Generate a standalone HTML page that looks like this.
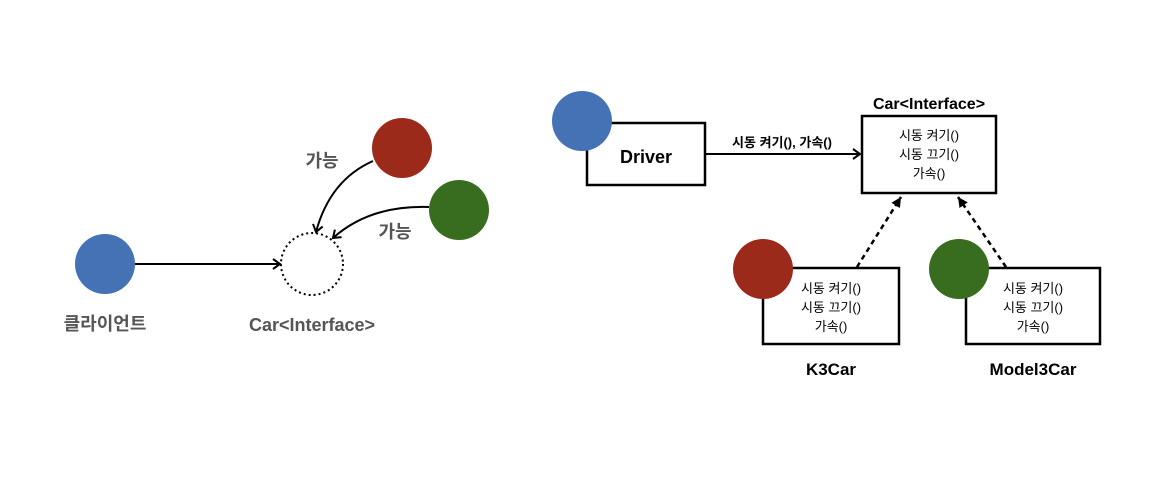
<!DOCTYPE html>
<html><head><meta charset="utf-8"><style>
body{margin:0;background:#fff;}
svg text{font-family:"Liberation Sans","Noto Sans CJK KR",sans-serif;}
</style></head><body>
<svg width="1156" height="493" viewBox="0 0 1156 493" xmlns="http://www.w3.org/2000/svg">
<defs>
<marker id="o" markerWidth="12" markerHeight="12" refX="9" refY="6" orient="auto" markerUnits="userSpaceOnUse"><path d="M2,1 L9,6 L2,11" fill="none" stroke="#000" stroke-width="2"/></marker>
<marker id="f" markerWidth="12" markerHeight="12" refX="10" refY="6" orient="auto" markerUnits="userSpaceOnUse"><path d="M0,1 L10,6 L0,11 Z" fill="#000"/></marker>
</defs>
<!-- left -->
<circle cx="105" cy="264" r="30" fill="#4472b4"/>
<circle cx="312" cy="264" r="31" fill="none" stroke="#000" stroke-width="2" stroke-dasharray="2,3"/>
<circle cx="402" cy="148" r="30" fill="#9b2a1a"/>
<circle cx="459" cy="210" r="30" fill="#386d1f"/>
<line x1="135" y1="264" x2="280" y2="264" stroke="#000" stroke-width="2" marker-end="url(#o)"/>
<path d="M373,161 Q330,180 316,232" fill="none" stroke="#000" stroke-width="2" marker-end="url(#o)"/>
<path d="M429,207 Q370,205 333,238" fill="none" stroke="#000" stroke-width="2" marker-end="url(#o)"/>
<text x="322" y="167" font-size="18" font-weight="bold" fill="#555" text-anchor="middle">가능</text>
<text x="395" y="238" font-size="18" font-weight="bold" fill="#555" text-anchor="middle">가능</text>
<text x="105" y="330" font-size="18" font-weight="bold" fill="#555" text-anchor="middle">클라이언트</text>
<text x="312" y="331" font-size="18" font-weight="bold" fill="#555" text-anchor="middle">Car&lt;Interface&gt;</text>
<!-- right -->
<rect x="587" y="123" width="118" height="62" fill="#fff" stroke="#000" stroke-width="2.5"/>
<circle cx="582" cy="121" r="30" fill="#4472b4"/>
<text x="646" y="163" font-size="18" font-weight="bold" text-anchor="middle">Driver</text>
<line x1="705" y1="154" x2="860" y2="154" stroke="#000" stroke-width="2" marker-end="url(#o)"/>
<text x="782" y="147" font-size="13" font-weight="bold" text-anchor="middle">시동 켜기(), 가속()</text>
<text x="929" y="109" font-size="16" font-weight="bold" text-anchor="middle">Car&lt;Interface&gt;</text>
<rect x="862" y="116" width="134" height="77" fill="#fff" stroke="#000" stroke-width="2.5"/>
<g font-size="13" text-anchor="middle">
<text x="929" y="140">시동 켜기()</text><text x="929" y="159">시동 끄기()</text><text x="929" y="178">가속()</text>
</g>
<rect x="763" y="268" width="136" height="76" fill="#fff" stroke="#000" stroke-width="2.5"/>
<circle cx="763" cy="269" r="30" fill="#9b2a1a"/>
<g font-size="13" text-anchor="middle">
<text x="831" y="293">시동 켜기()</text><text x="831" y="312">시동 끄기()</text><text x="831" y="331">가속()</text>
</g>
<text x="831" y="375" font-size="17" font-weight="bold" text-anchor="middle">K3Car</text>
<rect x="966" y="268" width="134" height="76" fill="#fff" stroke="#000" stroke-width="2.5"/>
<circle cx="959" cy="269" r="30" fill="#386d1f"/>
<g font-size="13" text-anchor="middle">
<text x="1033" y="293">시동 켜기()</text><text x="1033" y="312">시동 끄기()</text><text x="1033" y="331">가속()</text>
</g>
<text x="1033" y="375" font-size="17" font-weight="bold" text-anchor="middle">Model3Car</text>
<line x1="857" y1="267" x2="901" y2="197" stroke="#000" stroke-width="2.5" stroke-dasharray="5,4" marker-end="url(#f)"/>
<line x1="1006" y1="267" x2="958" y2="197" stroke="#000" stroke-width="2.5" stroke-dasharray="5,4" marker-end="url(#f)"/>
</svg>
</body></html>
